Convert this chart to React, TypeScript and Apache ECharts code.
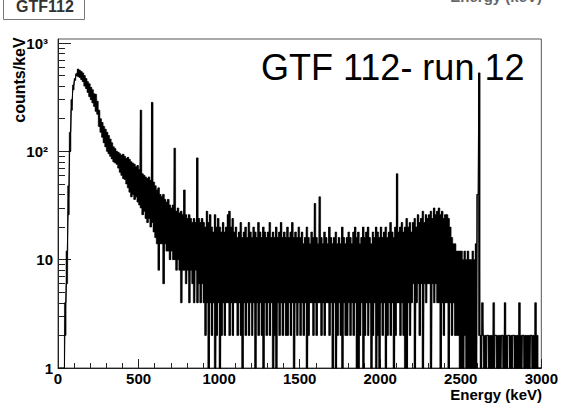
import React, { useEffect, useRef } from "react";
import * as echarts from "echarts";

// Energy spectrum "GTF 112 - run 12", read from the picture as 10 keV slices:
// the highest and the lowest counts/keV seen inside each slice (0 = empty bins).
const sliceWidthKeV = 10;

const sliceHigh: number[] = [
  0, 0, 0, 0, 2, 6, 26, 100, 240, 370,
  450, 520, 575, 560, 545, 530, 500, 470, 440, 420,
  390, 370, 340, 336, 290, 240, 200, 185, 170, 160,
  150, 140, 130, 120, 110, 106, 100, 98, 95, 92,
  94, 90, 86, 88, 84, 80, 78, 76, 72, 74,
  68, 240, 62, 60, 58, 56, 58, 54, 283, 52,
  48, 44, 46, 40, 38, 40, 36, 34, 36, 32,
  30, 32, 107, 28, 30, 27, 28, 26, 44, 26,
  24, 26, 24, 22, 24, 22, 87, 24, 22, 24,
  22, 20, 28, 22, 26, 20, 18, 26, 20, 24,
  20, 18, 22, 18, 20, 26, 28, 20, 24, 18,
  20, 16, 18, 22, 16, 18, 20, 16, 22, 18,
  16, 20, 18, 16, 22, 18, 16, 20, 18, 16,
  18, 22, 16, 18, 16, 20, 16, 18, 22, 16,
  18, 16, 20, 16, 18, 22, 16, 18, 16, 20,
  16, 18, 14, 16, 20, 16, 14, 18, 16, 33,
  16, 14, 38, 16, 14, 18, 16, 14, 20, 16,
  14, 16, 18, 14, 16, 14, 20, 16, 14, 16,
  18, 16, 14, 18, 20, 16, 18, 14, 16, 20,
  16, 18, 20, 16, 14, 18, 16, 20, 18, 16,
  20, 16, 18, 20, 16, 18, 22, 18, 16, 20,
  62, 18, 20, 22, 18, 20, 24, 20, 22, 18,
  22, 24, 20, 26, 22, 24, 28, 22, 26, 24,
  26, 28, 24, 30, 26, 28, 30, 26, 28, 24,
  26, 26, 24, 20, 16, 14, 14, 12, 12, 12,
  12, 10, 12, 10, 12, 10, 10, 12, 10, 14,
  40, 530, 2, 4, 2, 2, 2, 2, 2, 2,
  4, 2, 2, 2, 2, 2, 2, 4, 2, 2,
  2, 2, 2, 2, 2, 2, 4, 2, 2, 2,
  2, 2, 2, 2, 2, 2, 4, 2, 0, 0,
];

const sliceLow: number[] = [
  0, 0, 0, 0, 4, 12, 48, 150, 300, 410,
  470, 500, 490, 480, 460, 440, 400, 380, 350, 320,
  300, 280, 260, 234, 220, 170, 150, 135, 120, 110,
  100, 95, 90, 85, 80, 78, 76, 70, 64, 60,
  56, 55, 50, 46, 42, 38, 40, 36, 38, 34,
  32, 30, 26, 28, 24, 22, 24, 20, 22, 18,
  16, 14, 8, 14, 14, 6, 14, 12, 12, 10,
  12, 10, 10, 8, 10, 8, 4, 8, 8, 6,
  8, 4, 8, 6, 4, 8, 4, 6, 4, 6,
  4, 2, 4, 0, 4, 2, 4, 0, 2, 4,
  0, 2, 4, 2, 4, 4, 2, 4, 2, 4,
  4, 2, 4, 2, 0, 4, 2, 4, 2, 4,
  2, 4, 0, 4, 2, 4, 2, 0, 4, 2,
  4, 2, 4, 0, 2, 0, 4, 2, 4, 2,
  4, 2, 2, 4, 2, 4, 0, 4, 2, 4,
  2, 4, 2, 4, 0, 2, 4, 4, 2, 4,
  2, 4, 4, 2, 4, 2, 4, 4, 2, 4,
  0, 4, 0, 2, 4, 2, 0, 4, 2, 2,
  4, 2, 4, 2, 4, 0, 0, 2, 4, 0,
  2, 4, 2, 4, 0, 2, 4, 0, 2, 0,
  4, 2, 4, 0, 2, 4, 2, 4, 0, 2,
  4, 4, 2, 4, 2, 0, 0, 4, 2, 4,
  6, 0, 4, 6, 2, 6, 0, 6, 4, 6,
  6, 0, 6, 4, 6, 4, 4, 0, 4, 2,
  4, 4, 0, 4, 2, 4, 2, 2, 2, 0,
  0, 0, 2, 0, 0, 0, 0, 0, 0, 0,
  40, 2, 0, 2, 0, 0, 2, 0, 0, 0,
  0, 2, 0, 0, 0, 2, 0, 0, 0, 2,
  0, 0, 2, 0, 0, 0, 0, 0, 2, 0,
  0, 0, 0, 2, 0, 0, 0, 0, 0, 0,
];

const energyMin = 0;
const energyMax = 3000;
const energyStep = 500;
const countMin = 1;
const countMax = 1089;
const countDecades = [1, 10, 100, 1000];
const countDecadeLabels = ["1", "10", "10²", "10³"];
const countMinorTicks = [
  2, 3, 4, 5, 6, 7, 8, 9,
  20, 30, 40, 50, 60, 70, 80, 90,
  200, 300, 400, 500, 600, 700, 800, 900,
];
const titleText = "GTF 112- run 12";
const xTitle = "Energy (keV)";
const yTitle = "counts/keV";
const panelLabel = "GTF112";

const FONT = '"Liberation Sans", Arial, Helvetica, sans-serif';

// empty bins fall below the log floor and are clipped at the frame, as in ROOT
const toDrawn = (v: number) => (v > 0 ? v : 0.5);

// zig-zag outline through each slice's high and low value
const histPoints: [number, number][] = [];
sliceHigh.forEach((h, i) => {
  const e0 = i * sliceWidthKeV;
  histPoints.push([e0 + sliceWidthKeV * 0.25, toDrawn(h)]);
  histPoints.push([e0 + sliceWidthKeV * 0.75, toDrawn(sliceLow[i])]);
});

export default function App() {
  const ref = useRef<HTMLDivElement>(null);

  useEffect(() => {
    if (!ref.current) return;
    const chart = echarts.init(ref.current, undefined, { renderer: "svg" });
    const axisColor = "#222";
    const option: any = {
      animation: false,
      backgroundColor: "#ffffff",
      grid: {
        left: 58,
        right: 18,
        top: 39,
        bottom: 41,
        show: true,
        borderColor: "#555",
        borderWidth: 1,
        backgroundColor: "transparent",
      },
      xAxis: {
        type: "value",
        min: energyMin,
        max: energyMax,
        interval: energyStep,
        axisLine: { show: true, onZero: false, lineStyle: { color: axisColor, width: 1 } },
        axisTick: { show: true, inside: true, length: 9, lineStyle: { color: axisColor } },
        minorTick: { show: true, splitNumber: 5, length: 5, lineStyle: { color: axisColor } },
        splitLine: { show: false },
        minorSplitLine: { show: false },
        axisLabel: {
          color: "#000",
          fontFamily: FONT,
          fontWeight: "bold",
          fontSize: 15,
          margin: 3,
          showMinLabel: true,
          showMaxLabel: true,
          formatter: (v: number) => String(Math.round(v)),
        },
      },
      yAxis: [
        {
          type: "log",
          logBase: 10,
          min: countMin,
          max: countMax,
          position: "left",
          axisLine: { show: true, lineStyle: { color: axisColor, width: 1 } },
          axisTick: {
            show: true,
            inside: true,
            length: 13,
            customValues: countDecades,
            lineStyle: { color: axisColor },
          },
          splitLine: { show: false },
          axisLabel: {
            customValues: countDecades,
            color: "#000",
            fontFamily: FONT,
            fontWeight: "bold",
            fontSize: 15,
            margin: 5,
            formatter: (v: number) => {
              const idx = countDecades.indexOf(Math.round(v));
              const t = idx >= 0 ? countDecadeLabels[idx] : String(v);
              return Math.round(v) >= 100 ? `{s|${t}}` : t;
            },
            rich: {
              s: {
                color: "#000",
                fontFamily: FONT,
                fontWeight: "bold",
                fontSize: 15,
                padding: [0, 5, 0, 0],
              },
            },
          },
        },
        {
          type: "log",
          logBase: 10,
          min: countMin,
          max: countMax,
          position: "left",
          offset: 0,
          axisLine: { show: false },
          axisTick: {
            show: true,
            inside: true,
            length: 7,
            customValues: countMinorTicks,
            lineStyle: { color: axisColor },
          },
          axisLabel: { show: false },
          splitLine: { show: false },
        },
      ],
      series: [
        {
          // the filled band: one polygon, upper edge along each slice's high value,
          // lower edge along each slice's low value
          type: "custom",
          data: [[energyMin, countMin]],
          yAxisIndex: 0,
          silent: true,
          renderItem: (params: any, api: any) => {
            const cs = params.coordSys;
            const floor = cs.y + cs.height;
            const ceil = cs.y;
            const clampY = (y: number) => Math.max(ceil, Math.min(floor, y));
            const upper: number[][] = [];
            const lower: number[][] = [];
            sliceHigh.forEach((h, i) => {
              const e0 = i * sliceWidthKeV;
              const e1 = e0 + sliceWidthKeV;
              const a = api.coord([e0, toDrawn(h)]);
              const b = api.coord([e1, toDrawn(h)]);
              const c = api.coord([e0, toDrawn(sliceLow[i])]);
              const d = api.coord([e1, toDrawn(sliceLow[i])]);
              upper.push([a[0], clampY(a[1])], [b[0], clampY(b[1])]);
              lower.push([c[0], clampY(c[1])], [d[0], clampY(d[1])]);
            });
            const points = upper.concat(lower.reverse());
            return {
              type: "polygon",
              shape: { points },
              style: { fill: "#000", stroke: "#000", lineWidth: 0.6 },
            };
          },
        },
        {
          type: "line",
          data: histPoints,
          yAxisIndex: 0,
          showSymbol: false,
          symbol: "none",
          clip: true,
          lineStyle: { color: "#000", width: 1 },
          emphasis: { disabled: true },
          silent: true,
        },
      ],
      graphic: [
        {
          type: "rect",
          shape: { x: 3.5, y: -20, width: 81, height: 39.5 },
          style: { fill: "none", stroke: "#777", lineWidth: 1 },
        },
        {
          type: "text",
          x: 45,
          y: 6.5,
          style: {
            text: panelLabel,
            font: `bold 16px ${FONT}`,
            fill: "#333",
            align: "center",
            verticalAlign: "middle",
          },
        },
        {
          type: "text",
          x: 542,
          y: -3.5,
          style: {
            text: xTitle,
            font: `bold 15px ${FONT}`,
            fill: "#666",
            align: "right",
            verticalAlign: "middle",
          },
        },
        {
          type: "text",
          x: 19,
          y: 80,
          rotation: Math.PI / 2,
          style: {
            text: yTitle,
            font: `bold 16px ${FONT}`,
            fill: "#000",
            align: "center",
            verticalAlign: "middle",
          },
        },
        {
          type: "text",
          x: 542,
          y: 394,
          style: {
            text: xTitle,
            font: `bold 15px ${FONT}`,
            fill: "#000",
            align: "right",
            verticalAlign: "middle",
          },
        },
        {
          type: "text",
          x: 261,
          y: 67,
          z: 10,
          style: {
            text: titleText,
            font: `36px ${FONT}`,
            fill: "#000",
            align: "left",
            verticalAlign: "middle",
          },
        },
      ],
    };
    chart.setOption(option);
    return () => chart.dispose();
  }, []);

  return (
    <div
      ref={ref}
      style={{ position: "fixed", left: 0, top: 0, width: 561, height: 409, background: "#fff" }}
    />
  );
}
